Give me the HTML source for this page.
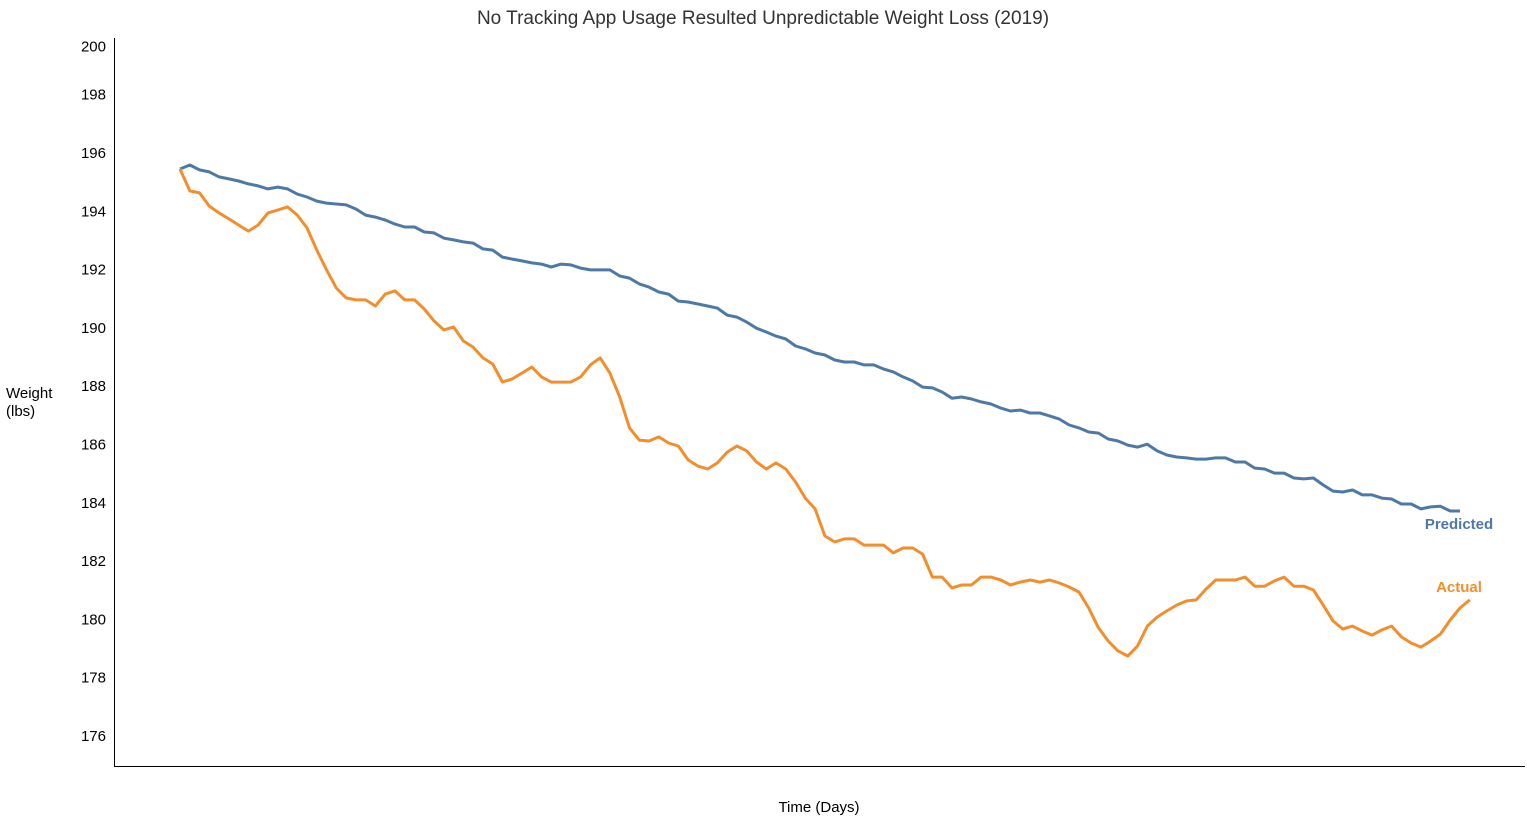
<!DOCTYPE html>
<html><head><meta charset="utf-8">
<style>
body{margin:0;background:#fff;}
svg{display:block;font-family:"Liberation Sans",Arial,sans-serif;}
</style></head>
<body>
<svg id="chart" width="1527" height="824" viewBox="0 0 1527 824" xmlns="http://www.w3.org/2000/svg">
<text x="763" y="24" text-anchor="middle" font-size="19" fill="#333">No Tracking App Usage Resulted Unpredictable Weight Loss (2019)</text>
<line x1="114.5" y1="38" x2="114.5" y2="766" stroke="#000" stroke-width="1"/>
<line x1="114" y1="766.5" x2="1525" y2="766.5" stroke="#000" stroke-width="1"/>
<g id="yticks"></g>
<text x="6" y="398" font-size="15" fill="#000">Weight</text>
<text x="6" y="416" font-size="15" fill="#000">(lbs)</text>
<text x="819" y="812" text-anchor="middle" font-size="15" fill="#000">Time (Days)</text>
<g id="series"></g>
<text x="1459" y="529" text-anchor="middle" font-size="15" font-weight="bold" fill="#4e79a7">Predicted</text>
<text x="1459" y="592" text-anchor="middle" font-size="15" font-weight="bold" fill="#f28e2b">Actual</text>
</svg>
<script>
const yTicks = [176,178,180,182,184,186,188,190,192,194,196,198,200];
const predicted = [195.45,195.59,195.42,195.35,195.18,195.11,195.04,194.94,194.87,194.77,194.83,194.77,194.59,194.49,194.35,194.28,194.25,194.22,194.08,193.87,193.80,193.70,193.56,193.46,193.46,193.29,193.26,193.08,193.02,192.95,192.91,192.71,192.67,192.43,192.36,192.30,192.23,192.19,192.09,192.19,192.16,192.05,191.99,191.99,191.99,191.78,191.71,191.51,191.40,191.23,191.16,190.92,190.89,190.82,190.75,190.68,190.44,190.37,190.20,189.99,189.86,189.72,189.62,189.38,189.28,189.14,189.07,188.90,188.83,188.83,188.73,188.73,188.59,188.49,188.32,188.18,187.97,187.94,187.80,187.59,187.63,187.56,187.46,187.39,187.25,187.15,187.18,187.08,187.08,186.98,186.87,186.67,186.57,186.43,186.39,186.19,186.12,185.98,185.91,186.01,185.78,185.64,185.57,185.54,185.50,185.50,185.54,185.54,185.40,185.40,185.19,185.16,185.02,185.02,184.85,184.82,184.85,184.61,184.40,184.37,184.44,184.27,184.27,184.16,184.13,183.96,183.96,183.79,183.86,183.88,183.72,183.72];
const actual = [195.45,194.70,194.63,194.18,193.94,193.74,193.53,193.32,193.53,193.94,194.04,194.15,193.87,193.43,192.67,191.99,191.37,191.03,190.96,190.96,190.75,191.16,191.27,190.96,190.96,190.65,190.24,189.93,190.03,189.55,189.34,188.97,188.76,188.14,188.25,188.45,188.66,188.32,188.14,188.14,188.14,188.32,188.73,188.97,188.45,187.63,186.57,186.15,186.12,186.26,186.05,185.95,185.47,185.26,185.16,185.37,185.74,185.95,185.78,185.40,185.16,185.37,185.16,184.71,184.16,183.79,182.86,182.66,182.76,182.76,182.55,182.55,182.55,182.28,182.45,182.45,182.24,181.45,181.45,181.08,181.18,181.18,181.45,181.45,181.35,181.18,181.28,181.35,181.28,181.35,181.25,181.11,180.94,180.39,179.71,179.26,178.92,178.74,179.09,179.77,180.08,180.29,180.49,180.63,180.67,181.04,181.35,181.35,181.35,181.45,181.14,181.14,181.32,181.45,181.14,181.14,181.01,180.49,179.95,179.67,179.77,179.60,179.46,179.64,179.77,179.40,179.19,179.05,179.26,179.50,179.98,180.39,180.67];

const NS = 'http://www.w3.org/2000/svg';
const xScale = d => 180 + d * 1280 / (predicted.length - 1);
const yScale = w => 153 + (196 - w) * 29.15;

const tg = document.getElementById('yticks');
yTicks.forEach(t => {
  const el = document.createElementNS(NS, 'text');
  
  
  el.setAttribute('x', 106);
  el.setAttribute('y', (t === 200 ? yScale(t) + 10 : yScale(t)) + 5);
  el.setAttribute('text-anchor', 'end');
  el.setAttribute('font-size', '15');
  el.textContent = t;
  tg.appendChild(el);
});

const sg = document.getElementById('series');
function drawLine(vals, color, name) {
  const p = document.createElementNS(NS, 'path');
  
  
  p.setAttribute('d', vals.map((v, i) => (i ? 'L' : 'M') + xScale(i).toFixed(1) + ',' + yScale(v).toFixed(1)).join(''));
  p.setAttribute('fill', 'none');
  p.setAttribute('stroke', color);
  p.setAttribute('stroke-width', '3');
  p.setAttribute('stroke-linejoin', 'round');
  sg.appendChild(p);
}
drawLine(predicted, '#4e79a7', 'predicted-line');
drawLine(actual, '#f28e2b', 'actual-line');
</script>
</body></html>
